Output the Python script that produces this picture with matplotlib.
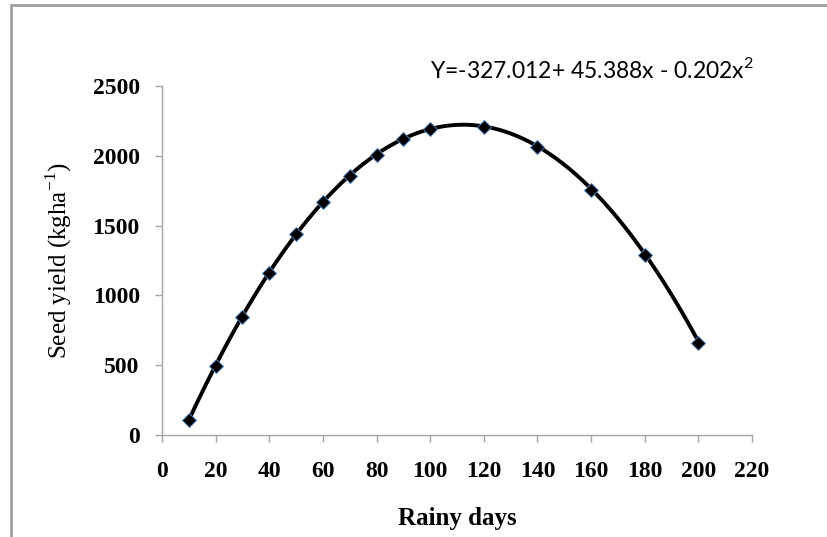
import numpy as np
import matplotlib.pyplot as plt
from matplotlib.patches import Rectangle

# data
rainy_days = [10, 20, 30, 40, 50, 60, 70, 80, 90, 100, 120, 140, 160, 180, 200]
seed_yield = [105, 496, 847, 1158, 1437, 1667, 1855, 2006, 2118, 2190, 2208, 2061, 1755, 1289, 657]
# trend equation shown on the chart: Y = a + b x + c x^2
coef = [-327.012, 45.388, -0.202]
xticks = list(range(0, 221, 20))
yticks = list(range(0, 2501, 500))

fig = plt.figure(figsize=(8.27, 5.37), dpi=100)
ax = fig.add_axes([162/827, 1-435/537, 590/827, 349/537])

# curve through the data from the trend equation
xs = np.linspace(min(rainy_days), max(rainy_days), 300)
ys = coef[0] + coef[1]*xs + coef[2]*xs**2
ax.plot(xs, ys, color='black', lw=2.8, zorder=2)
ax.plot(rainy_days, seed_yield, linestyle='none', marker='D', ms=7.5,
        mfc='black', mec='#4a7ebb', mew=0.7, zorder=3)

ax.set_xlim(0, 220)
ax.set_ylim(0, 2500)
ax.set_xticks(xticks)
ax.set_yticks(yticks)
for s in ['top', 'right']:
    ax.spines[s].set_visible(False)
for s in ['left', 'bottom']:
    ax.spines[s].set_color('#a6a6a6')
    ax.spines[s].set_linewidth(1.0)
ax.tick_params(direction='out', length=5, color='#a6a6a6', width=1.0)
ax.tick_params(axis='x', pad=14)
ax.tick_params(axis='y', pad=11)
for lab in ax.get_xticklabels() + ax.get_yticklabels():
    lab.set_fontfamily('Liberation Serif')
    lab.set_fontweight('bold')
    lab.set_fontsize(17)

ax.set_xlabel('Rainy days', fontfamily='Liberation Serif', fontweight='bold',
              fontsize=18, labelpad=18)
ax.set_ylabel(r'Seed yield (kgha$^{\mathregular{-1}}$)', fontfamily='Liberation Serif',
              fontsize=18, labelpad=13)

fig.text(430/827, 1-78/537, r'Y=-327.012+ 45.388x - 0.202x$^{\mathregular{2}}$',
         fontfamily='Lato', fontsize=16.5, va='baseline', ha='left')

# outer gray frame
fig.patches.append(Rectangle((11/827, -0.1), 1.2, 1-5/537+0.1, transform=fig.transFigure,
                             fill=False, edgecolor='#a0a0a0', lw=2))

fig.savefig('out.png', dpi=100)
